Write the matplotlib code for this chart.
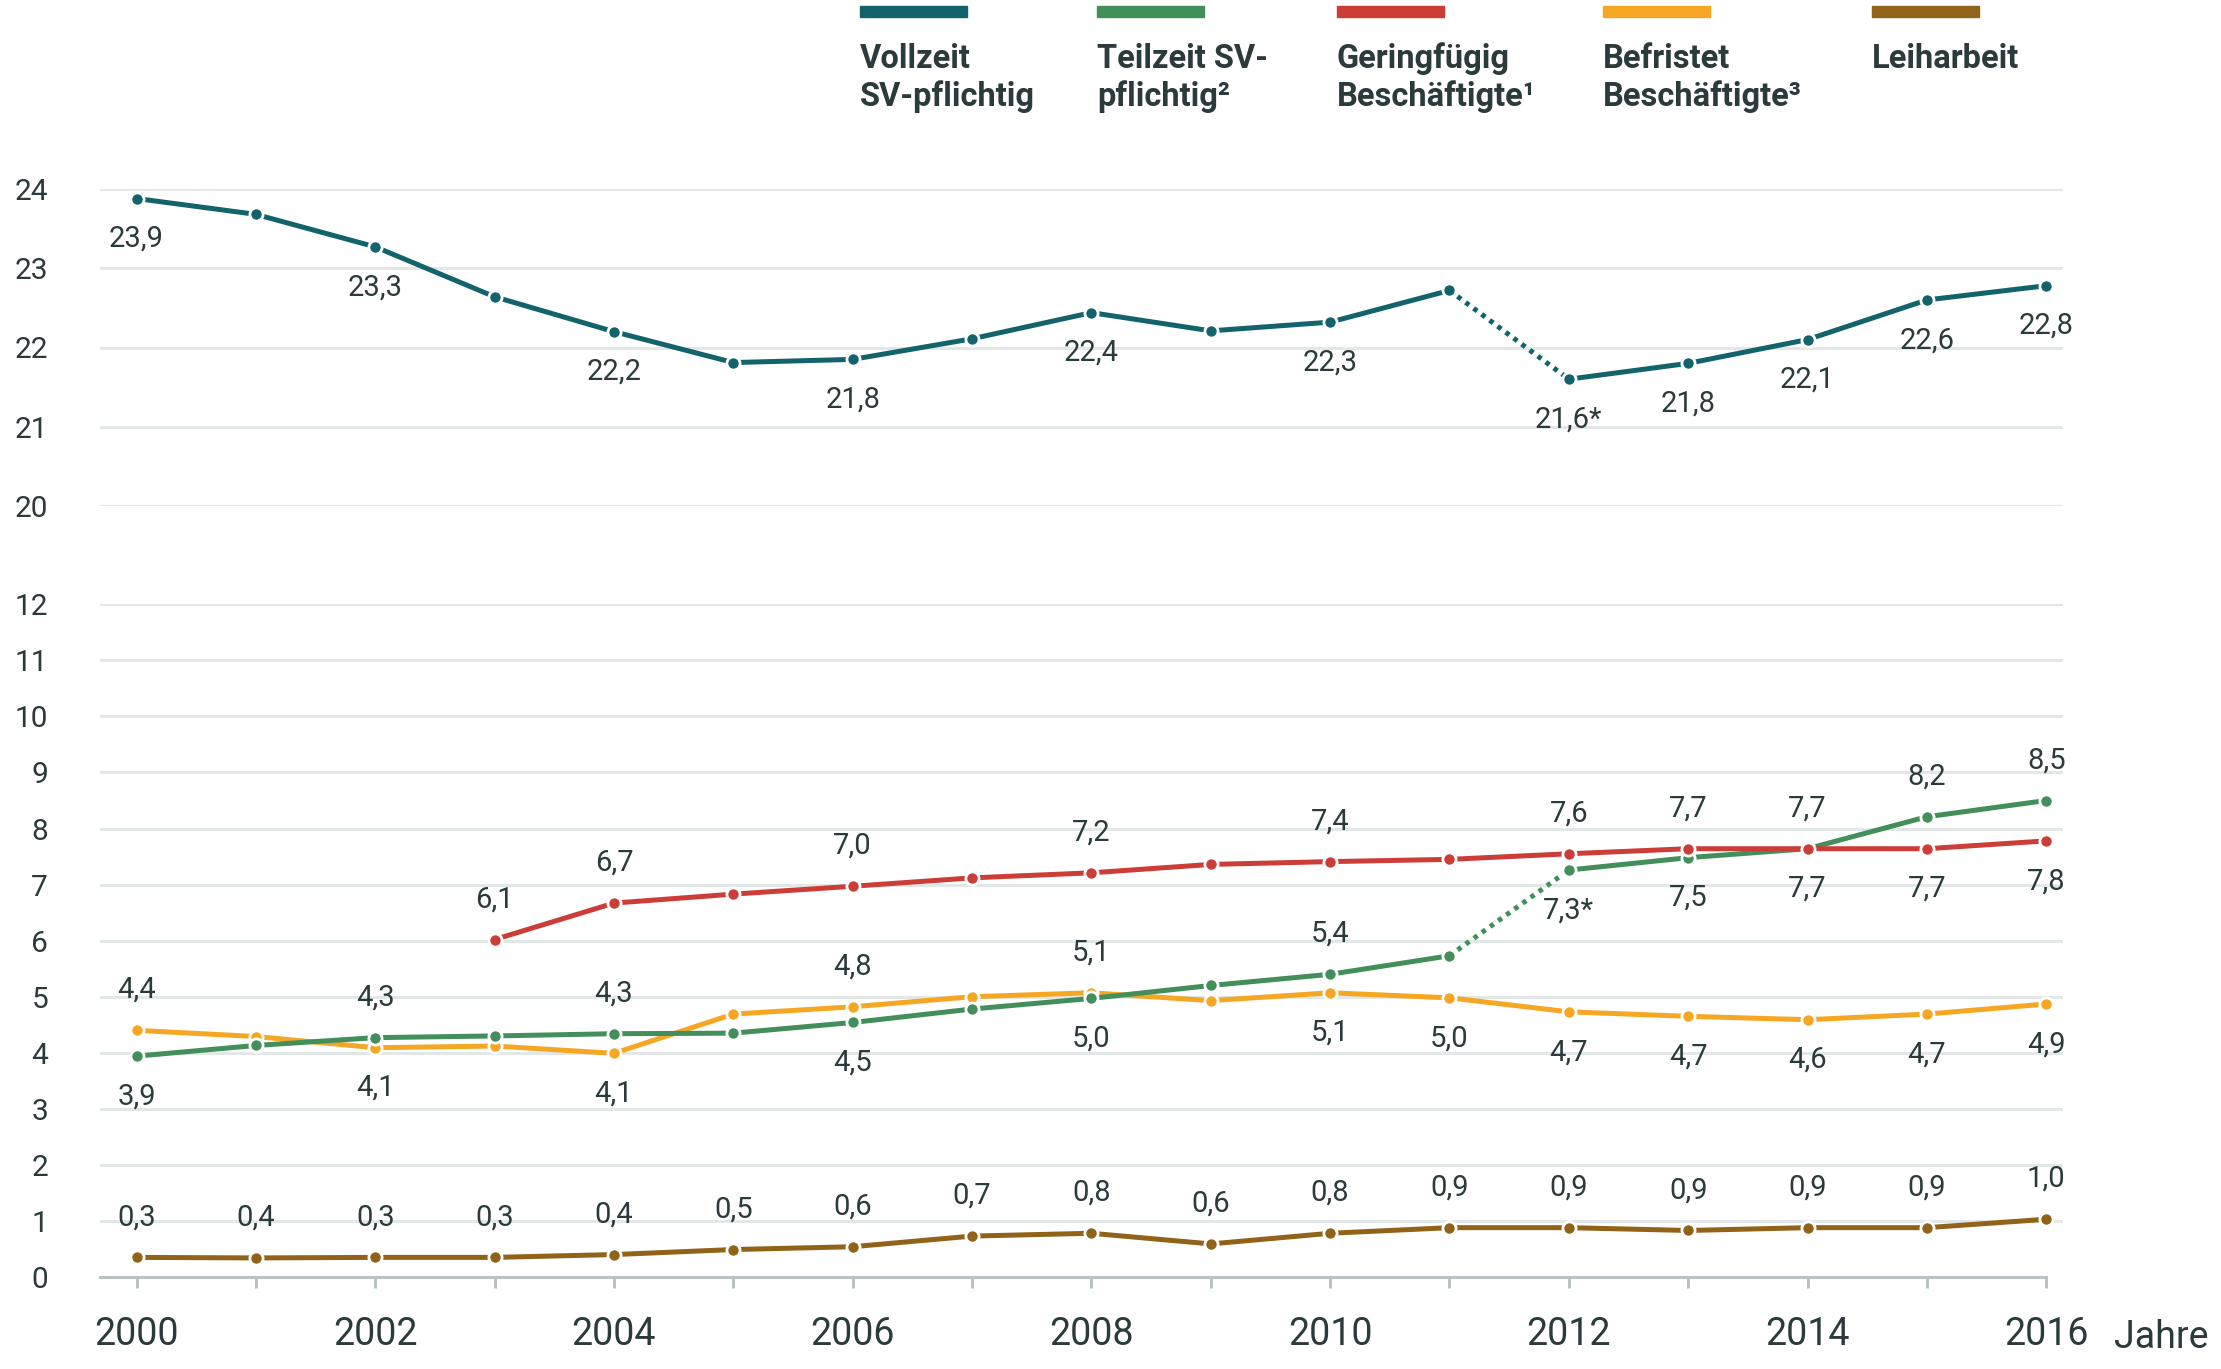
import matplotlib
matplotlib.use("Agg")
import matplotlib.pyplot as plt
from matplotlib.patches import Rectangle

plt.rcParams['font.family'] = ['Roboto', 'DejaVu Sans']

# ---- data (Mio. Beschäftigte) ----
years = list(range(2000, 2017))
vollzeit = [23.88, 23.68, 23.27, 22.64, 22.20, 21.81, 21.85, 22.11, 22.44,
            22.21, 22.32, 22.72, 21.60, 21.80, 22.10, 22.60, 22.78]
teilzeit = [3.94, 4.13, 4.27, 4.30, 4.34, 4.35, 4.54, 4.78, 4.97,
            5.20, 5.40, 5.73, 7.26, 7.48, 7.64, 8.21, 8.50]
gering_years = list(range(2003, 2017))
gering = [6.02, 6.67, 6.83, 6.97, 7.12, 7.21, 7.36, 7.41, 7.45,
          7.55, 7.64, 7.64, 7.64, 7.78]
befristet = [4.40, 4.29, 4.09, 4.12, 3.99, 4.69, 4.82, 5.00, 5.07,
             4.93, 5.07, 4.98, 4.73, 4.65, 4.59, 4.69, 4.87]
leiharbeit = [0.35, 0.34, 0.35, 0.35, 0.40, 0.49, 0.54, 0.73, 0.78,
              0.59, 0.78, 0.88, 0.88, 0.83, 0.88, 0.88, 1.03]

# value labels: (year, text, +1 above / -1 below)
vollzeit_labels = [(2000, '23,9', -1), (2002, '23,3', -1), (2004, '22,2', -1),
                   (2006, '21,8', -1), (2008, '22,4', -1), (2010, '22,3', -1),
                   (2012, '21,6*', -1), (2013, '21,8', -1), (2014, '22,1', -1),
                   (2015, '22,6', -1), (2016, '22,8', -1)]
teilzeit_labels = [(2000, '3,9', -1), (2002, '4,3', 1), (2004, '4,3', 1),
                   (2006, '4,5', -1), (2008, '5,0', -1), (2010, '5,4', 1),
                   (2012, '7,3*', -1), (2013, '7,5', -1), (2014, '7,7', -1),
                   (2015, '8,2', 1), (2016, '8,5', 1)]
gering_labels = [(2003, '6,1', 1), (2004, '6,7', 1), (2006, '7,0', 1),
                 (2008, '7,2', 1), (2010, '7,4', 1), (2012, '7,6', 1),
                 (2013, '7,7', 1), (2014, '7,7', 1), (2015, '7,7', -1),
                 (2016, '7,8', -1)]
befristet_labels = [(2000, '4,4', 1), (2002, '4,1', -1), (2004, '4,1', -1),
                    (2006, '4,8', 1), (2008, '5,1', 1), (2010, '5,1', -1),
                    (2011, '5,0', -1), (2012, '4,7', -1), (2013, '4,7', -1),
                    (2014, '4,6', -1), (2015, '4,7', -1), (2016, '4,9', -1)]
leih_labels = ['0,3', '0,4', '0,3', '0,3', '0,4', '0,5', '0,6', '0,7', '0,8',
               '0,6', '0,8', '0,9', '0,9', '0,9', '0,9', '0,9', '1,0']

legend_names = ['Vollzeit\nSV-pflichtig', 'Teilzeit SV-\npflichtig²',
                'Geringfügig\nBeschäftigte¹', 'Befristet\nBeschäftigte³', 'Leiharbeit']

C_VOLL = '#13636c'
C_TEIL = '#438f5c'
C_GER = '#cc3d37'
C_BEF = '#f5a623'
C_LEIH = '#916318'
TXT = '#2b3a3a'
GRID = '#e2e7e7'
AXIS = '#b9c3c3'

W, H = 2221, 1369
fig = plt.figure(figsize=(W / 100, H / 100), dpi=100)


def fx(px):
    return px / W


def fy(py):
    return 1 - py / H


left, right = 99.5, 2063
ax_top = fig.add_axes([fx(left), fy(506), fx(right) - fx(left), fy(189) - fy(506)])
ax_bot = fig.add_axes([fx(left), fy(1277), fx(right) - fx(left), fy(604.3) - fy(1277)])

xmin, xmax = 1999.69, 2016.14
for ax in (ax_top, ax_bot):
    ax.set_xlim(xmin, xmax)
    for s in ('top', 'right', 'left'):
        ax.spines[s].set_visible(False)
    ax.tick_params(axis='y', length=0, pad=37, labelsize=21.5, labelcolor=TXT)
    ax.grid(axis='y', color=GRID, lw=2.2, zorder=0)
    ax.set_axisbelow(True)
    ax.patch.set_alpha(0)

ax_top.set_ylim(20, 24)
ax_top.set_yticks([20, 21, 22, 23, 24])
ax_top.spines['bottom'].set_visible(False)
ax_top.tick_params(axis='x', bottom=False, labelbottom=False)

ax_bot.set_ylim(0, 12)
ax_bot.set_yticks(range(0, 13))
ax_bot.spines['bottom'].set_color(AXIS)
ax_bot.spines['bottom'].set_linewidth(2.2)
ax_bot.spines['bottom'].set_bounds(xmin, 2016)
ax_bot.set_xticks(years)
ax_bot.set_xticklabels([str(y) if y % 2 == 0 else '' for y in years])
ax_bot.tick_params(axis='x', length=8, width=2.2, color=AXIS, pad=20,
                   labelsize=27, labelcolor=TXT)
# hide gridline at 0 (spine takes its place)
ax_bot.get_ygridlines()[0].set_visible(False)

LW = 3.6
MK = dict(marker='o', ms=9.5, mec='white', mew=2.0)


def draw_series(ax, xs, ys, color, dotted_from=None, z=3):
    if dotted_from is None:
        ax.plot(xs, ys, color=color, lw=LW, zorder=z, solid_capstyle='butt')
    else:
        i = xs.index(dotted_from)
        ax.plot(xs[:i + 1], ys[:i + 1], color=color, lw=LW, zorder=z)
        ax.plot(xs[i:i + 2], ys[i:i + 2], color=color, lw=LW, zorder=z,
                linestyle=(0, (0.9, 1.1)))
        ax.plot(xs[i + 1:], ys[i + 1:], color=color, lw=LW, zorder=z)
    ax.plot(xs, ys, linestyle='none', color=color, zorder=z + 0.5,
            clip_on=False, **MK)


def put_labels(ax, xs, ys, labels):
    for yr, txt, side in labels:
        v = ys[xs.index(yr)]
        ax.annotate(txt, (yr, v), xytext=(0, 29 * side), textcoords='offset points',
                    ha='center', va='center', fontsize=21, color=TXT, zorder=10)


draw_series(ax_bot, years, befristet, C_BEF, z=3)
draw_series(ax_bot, years, teilzeit, C_TEIL, dotted_from=2011, z=4)
draw_series(ax_bot, gering_years, gering, C_GER, z=5)
draw_series(ax_bot, years, leiharbeit, C_LEIH, z=5)
draw_series(ax_top, years, vollzeit, C_VOLL, dotted_from=2011, z=5)

put_labels(ax_top, years, vollzeit, vollzeit_labels)
put_labels(ax_bot, years, teilzeit, teilzeit_labels)
put_labels(ax_bot, gering_years, gering, gering_labels)
put_labels(ax_bot, years, befristet, befristet_labels)
put_labels(ax_bot, years, leiharbeit, [(y, t, 1) for y, t in zip(years, leih_labels)])

fig.text(fx(2114), fy(1338), 'Jahre', ha='left', va='center', fontsize=27, color=TXT)

# legend at top
leg_x = [860, 1097, 1337, 1603, 1872]
leg_colors = [C_VOLL, C_TEIL, C_GER, C_BEF, C_LEIH]
for x0, col, name in zip(leg_x, leg_colors, legend_names):
    fig.patches.append(Rectangle((fx(x0), fy(17)), fx(107), fy(6) - fy(17),
                                 transform=fig.transFigure, color=col))
    lines = name.split('\n')
    for k, line in enumerate(lines):
        fig.text(fx(x0), fy(68 + 38 * k), line, ha='left', va='baseline',
                 fontsize=23.5, fontweight='bold', color=TXT)

fig.savefig('out.png', dpi=100)
